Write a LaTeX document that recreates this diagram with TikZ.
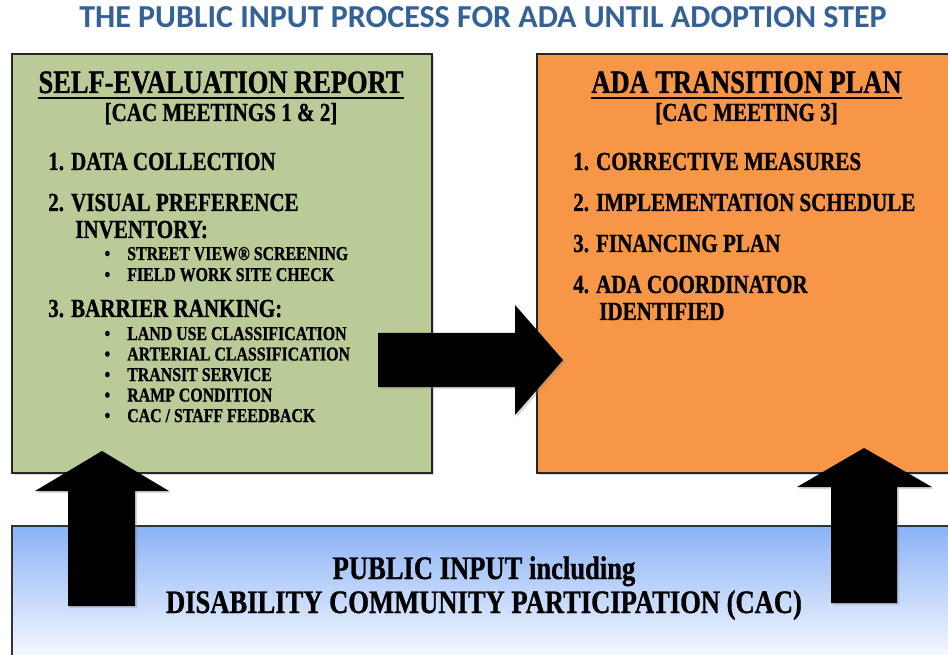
\documentclass[tikz,border=0pt]{standalone}
\usepackage{fontspec}
\newfontfamily\boxfont{Liberation Serif}[FakeStretch=0.81, FakeBold=0.9]
\newfontfamily\titlefont{Carlito}
\usetikzlibrary{shadows}

\definecolor{titleblue}{RGB}{52,98,150}
\definecolor{reportgreen}{RGB}{187,203,151}
\definecolor{planorange}{RGB}{247,150,70}
\definecolor{inputblue}{RGB}{138,178,246}
\definecolor{inputwhite}{RGB}{252,253,255}

\newcommand{\bitem}[1]{\llap{\makebox[17pt][l]{\textbullet}}#1}

\tikzset{
  panel/.style={draw=black!85, line width=0.9pt, drop shadow={shadow xshift=1.5pt, shadow yshift=-1.5pt, opacity=0.3}},
  blockarrow/.style={fill=black, drop shadow={shadow xshift=1.5pt, shadow yshift=-1.5pt, opacity=0.3}},
  head/.style={inner sep=0pt, anchor=base, font=\boxfont\bfseries\fontsize{24.5}{28}\selectfont},
  sub/.style={inner sep=0pt, anchor=base, font=\boxfont\bfseries\fontsize{19.5}{22}\selectfont},
  lbl/.style={inner sep=0pt, anchor=base west, font=\boxfont\bfseries\fontsize{19.5}{22}\selectfont},
  bul/.style={inner sep=0pt, anchor=base west, font=\boxfont\bfseries\fontsize{14.7}{17}\selectfont},
  foot/.style={inner sep=0pt, anchor=base, font=\boxfont\bfseries\fontsize{24.6}{28}\selectfont}
}

\begin{document}
\begin{tikzpicture}[x=0.75pt, y=-0.75pt]
        \clip (0,0) rectangle (948,655);
        \fill[white] (0,0) rectangle (948,655);

        \node[anchor=base, inner sep=0pt, text=titleblue, font=\titlefont\bfseries\fontsize{24}{28}\selectfont] (title) at (483,28) {THE PUBLIC INPUT PROCESS FOR ADA UNTIL ADOPTION STEP};

        % the two step boxes
        \draw[panel, fill=reportgreen] (12,54) rectangle (432,473);
        \draw[panel, fill=planorange] (537,54) rectangle (970,473);

        \node[head] (rephead) at (221,93) {SELF-EVALUATION REPORT};
        \draw[line width=1.5pt] ([yshift=-3.8pt]rephead.base west) -- ([yshift=-3.8pt]rephead.base east);
        \node[sub] (repsub) at (221,121) {[CAC MEETINGS 1 \& 2]};
        \node[lbl] (rep1) at (48,170) {1. DATA COLLECTION};
        \node[lbl] (rep2) at (48,211) {2. VISUAL PREFERENCE};
        \node[lbl] (rep2b) at (75,238) {INVENTORY:};
        \node[bul] (rep2x) at (127,260) {\bitem{STREET VIEW® SCREENING}};
        \node[bul] (rep2y) at (127,281) {\bitem{FIELD WORK SITE CHECK}};
        \node[lbl] (rep3) at (48,317) {3. BARRIER RANKING:};
        \node[bul] (rep3a) at (127,340) {\bitem{LAND USE CLASSIFICATION}};
        \node[bul] (rep3b) at (127,360.5) {\bitem{ARTERIAL CLASSIFICATION}};
        \node[bul] (rep3c) at (127,381) {\bitem{TRANSIT SERVICE}};
        \node[bul] (rep3d) at (127,401.5) {\bitem{RAMP CONDITION}};
        \node[bul] (rep3e) at (127,422) {\bitem{CAC / STAFF FEEDBACK}};

        \node[head] (planhead) at (746.5,93) {ADA TRANSITION PLAN};
        \draw[line width=1.5pt] ([yshift=-3.8pt]planhead.base west) -- ([yshift=-3.8pt]planhead.base east);
        \node[sub] (plansub) at (746.5,121) {[CAC MEETING 3]};
        \node[lbl] (plan1) at (573,170) {1. CORRECTIVE MEASURES};
        \node[lbl] (plan2) at (573,211) {2. IMPLEMENTATION SCHEDULE};
        \node[lbl] (plan3) at (573,252) {3. FINANCING PLAN};
        \node[lbl] (plan4) at (573,293) {4. ADA COORDINATOR};
        \node[lbl] (plan4b) at (599,320) {IDENTIFIED};

        % public input band
        \shade[top color=inputblue, bottom color=inputwhite] (12,526) rectangle (970,665);
        \draw[black!80, line width=0.8pt] (970,526) -- (12,526) -- (12,670);
        \node[foot] (input1) at (484,579) {PUBLIC INPUT including};
        \node[foot] (input2) at (484,613) {DISABILITY COMMUNITY PARTICIPATION (CAC)};

        % block arrows
        \fill[blockarrow] (378,333) -- (515,333) -- (515,305) -- (563,360) -- (515,415) -- (515,387) -- (378,387) -- cycle;
        \fill[blockarrow] (68,606) -- (68,491) -- (35,491) -- (102,451) -- (169,491) -- (135,491) -- (135,606) -- cycle;
        \fill[blockarrow] (831,603) -- (831,487) -- (797,487) -- (864,448) -- (932,487) -- (897,487) -- (897,603) -- cycle;

        \end{tikzpicture}
\end{document}
